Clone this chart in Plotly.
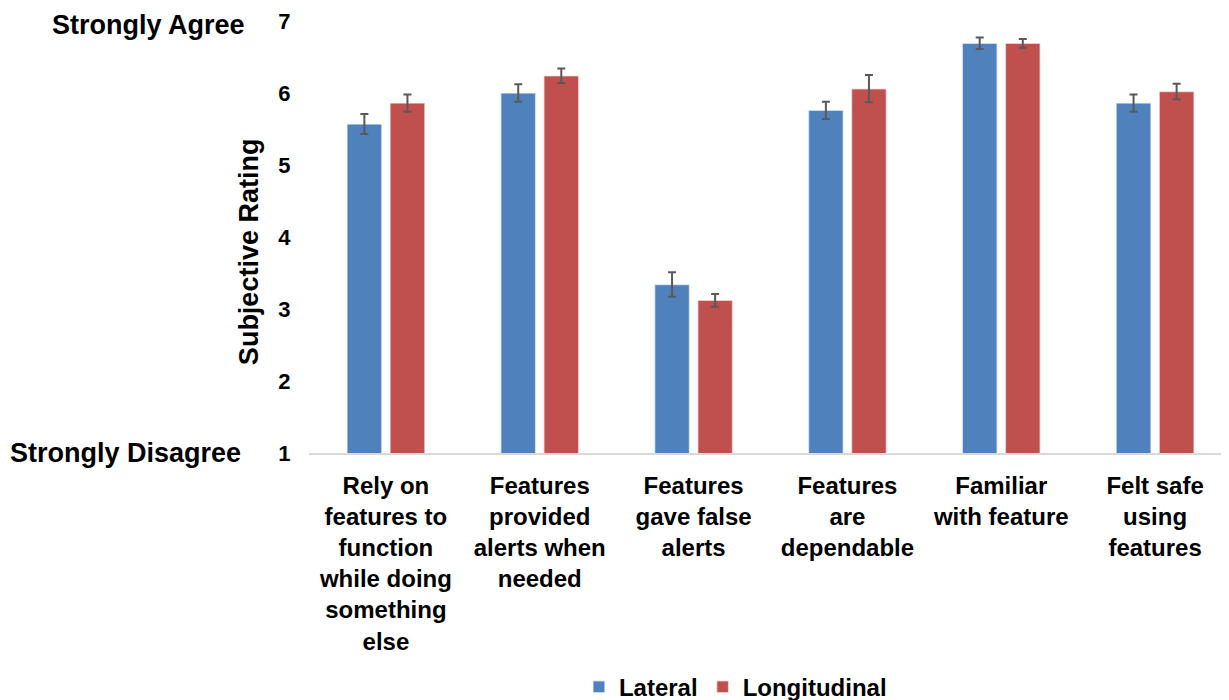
import plotly.graph_objects as go

# categories (x axis labels, line breaks as in the original)
categories = [
    "Rely on<br>features to<br>function<br>while doing<br>something<br>else",
    "Features<br>provided<br>alerts when<br>needed",
    "Features<br>gave false<br>alerts",
    "Features<br>are<br>dependable",
    "Familiar<br>with feature",
    "Felt safe<br>using<br>features",
]

# mean ratings and standard errors
lateral = [5.57, 6.00, 3.34, 5.76, 6.69, 5.86]
lateral_err = [0.14, 0.12, 0.17, 0.12, 0.08, 0.12]
longitudinal = [5.86, 6.24, 3.12, 6.06, 6.69, 6.02]
longitudinal_err = [0.12, 0.10, 0.09, 0.19, 0.06, 0.11]

y_ticks = [1, 2, 3, 4, 5, 6, 7]

FONT = "Liberation Sans, Arial, sans-serif"
blue = "#4F81BD"
red = "#C0504D"
err_color = "#595959"

fig = go.Figure()
fig.add_trace(go.Bar(
    x=categories, y=lateral, name="Lateral",
    marker=dict(color=blue, line=dict(color="rgba(255,255,255,0.6)", width=1.5)),
    error_y=dict(type="data", array=lateral_err, color=err_color, thickness=2, width=4),
))
fig.add_trace(go.Bar(
    x=categories, y=longitudinal, name="Longitudinal",
    marker=dict(color=red, line=dict(color="rgba(255,255,255,0.6)", width=1.5)),
    error_y=dict(type="data", array=longitudinal_err, color=err_color, thickness=2, width=4),
))

# the page body adds an 8px offset, so margins are shifted to compensate
fig.update_layout(
    width=1229, height=700,
    margin=dict(l=301, r=5, t=13, b=255, autoexpand=False),
    paper_bgcolor="white", plot_bgcolor="white",
    font=dict(family=FONT, color="black", size=22, weight="bold"),
    barmode="group", bargap=0.44, bargroupgap=0.19,
    showlegend=True,
    legend=dict(
        orientation="h", x=0.462, xanchor="center", y=-0.542, yanchor="middle",
        font=dict(family=FONT, size=24, weight="bold"),
        itemwidth=30, tracegroupgap=0,
    ),
)

fig.update_xaxes(
    showgrid=False, showline=True, linecolor="#D9D9D9", linewidth=1.5,
    ticks="outside", ticklen=10, tickcolor="white",
    tickfont=dict(family=FONT, size=24, weight="bold"),
    range=[-0.5, 5.5],
)
fig.update_yaxes(
    range=[1, 7], tickvals=y_ticks, showgrid=False, showline=False, zeroline=False,
    ticks="outside", ticklen=13, tickcolor="white",
    tickfont=dict(family=FONT, size=22, weight="bold"),
)

# axis title and scale end labels
fig.add_annotation(
    text="Subjective Rating", xref="paper", yref="paper", x=-0.065, y=0.465,
    xanchor="center", yanchor="middle",
    textangle=-90, showarrow=False, font=dict(family=FONT, size=27, weight="bold"),
)
fig.add_annotation(
    text="Strongly Agree", xref="paper", yref="y", x=-0.0683, y=7, xanchor="right",
    yshift=-4, borderpad=0,
    showarrow=False, font=dict(family=FONT, size=27, weight="bold"),
)
fig.add_annotation(
    text="Strongly Disagree", xref="paper", yref="y", x=-0.0716, y=1, xanchor="right",
    showarrow=False, font=dict(family=FONT, size=27, weight="bold"),
)

fig.write_html("out.html")
